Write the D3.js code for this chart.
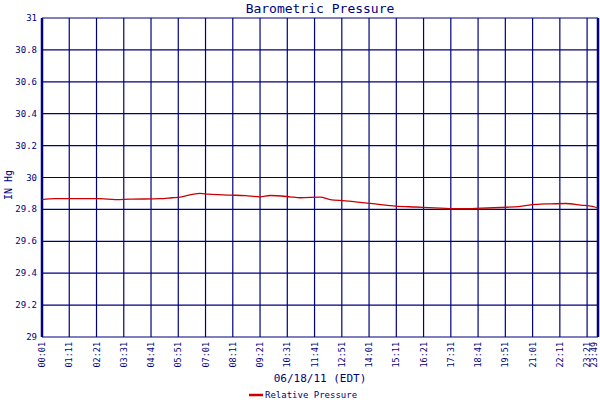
<!DOCTYPE html>
<html><head><meta charset="utf-8">
<script src="https://cdn.jsdelivr.net/npm/d3@7"></script>
<style>body{margin:0;background:#fff}</style>
</head><body><svg id="c" width="600" height="400"></svg>
<script>
const minutes = [1,34,73,150,189,227,304,335,356,387,407,428,484,523,561,587,638,664,716,741,780,818,857,908,960,1024,1076,1114,1178,1230,1268,1307,1345,1384,1415,1429];
const pressure = [29.861,29.867,29.867,29.867,29.861,29.864,29.867,29.873,29.877,29.894,29.900,29.896,29.890,29.886,29.879,29.887,29.879,29.873,29.877,29.861,29.854,29.844,29.835,29.821,29.815,29.808,29.804,29.806,29.812,29.819,29.831,29.835,29.837,29.827,29.819,29.808];
const yTicks = [29,29.2,29.4,29.6,29.8,30,30.2,30.4,30.6,30.8,31];
const xTickLabels = ["00:01","01:11","02:21","03:31","04:41","05:51","07:01","08:11","09:21","10:31","11:41","12:51","14:01","15:11","16:21","17:31","18:41","19:51","21:01","22:11","23:21","23:49"];
const toMin = s => +s.slice(0,2)*60 + +s.slice(3);
const blue = "#000080", red = "#cc0000", font = "DejaVu Sans Mono";
const svg = d3.select("#c");
const L=42,R=598,T=18,B=337;
const x = d3.scaleLinear().domain([1,1429]).range([L,R]);
const y = d3.scaleLinear().domain([29,31]).range([B,T]);
svg.append("g").selectAll("line").data(yTicks).join("line")
  .attr("x1",L).attr("x2",R).attr("y1",d=>y(d)).attr("y2",d=>y(d))
  .attr("stroke",blue).attr("stroke-width",1.2);
svg.append("g").selectAll("line").data(xTickLabels).join("line")
  .attr("x1",d=>x(toMin(d))).attr("x2",d=>x(toMin(d))).attr("y1",T).attr("y2",B)
  .attr("stroke",blue).attr("stroke-width",1.2);
svg.append("line").attr("x1",L).attr("x2",L).attr("y1",T).attr("y2",B).attr("stroke",blue).attr("stroke-width",2.5);
svg.append("line").attr("x1",R).attr("x2",R).attr("y1",T).attr("y2",B).attr("stroke",blue).attr("stroke-width",2.5);
svg.append("g").selectAll("text").data(yTicks).join("text")
  .attr("x",37).attr("y",d=>y(d)+3).attr("text-anchor","end")
  .attr("font-family",font).attr("font-size",9).attr("fill",blue).text(d=>d);
svg.append("g").selectAll("text").data(xTickLabels).join("text")
  .attr("transform",d=>`translate(${Math.min(x(toMin(d))+3,597)},342) rotate(-90)`)
  .attr("text-anchor","end").attr("font-family",font).attr("font-size",8.5).attr("fill",blue).text(d=>d);
svg.append("path").datum(minutes.map((m,i)=>[m,pressure[i]]))
  .attr("d",d3.line().x(d=>x(d[0])).y(d=>y(d[1])).curve(d3.curveMonotoneX))
  .attr("fill","none").attr("stroke",red).attr("stroke-width",1.3);
svg.append("text").attr("x",320).attr("y",13).attr("text-anchor","middle")
  .attr("font-family",font).attr("font-size",13).attr("fill",blue).text("Barometric Pressure");
svg.append("text").attr("transform","translate(12,185) rotate(-90)").attr("text-anchor","middle")
  .attr("font-family",font).attr("font-size",10).attr("fill",blue).text("IN Hg");
svg.append("text").attr("x",320).attr("y",382).attr("text-anchor","middle")
  .attr("font-family",font).attr("font-size",11).attr("fill",blue).text("06/18/11 (EDT)");
svg.append("line").attr("x1",249).attr("x2",263).attr("y1",395).attr("y2",395).attr("stroke",red).attr("stroke-width",2.5);
svg.append("text").attr("x",265).attr("y",398).attr("font-family",font).attr("font-size",9).attr("fill",blue).text("Relative Pressure");
</script></body></html>
